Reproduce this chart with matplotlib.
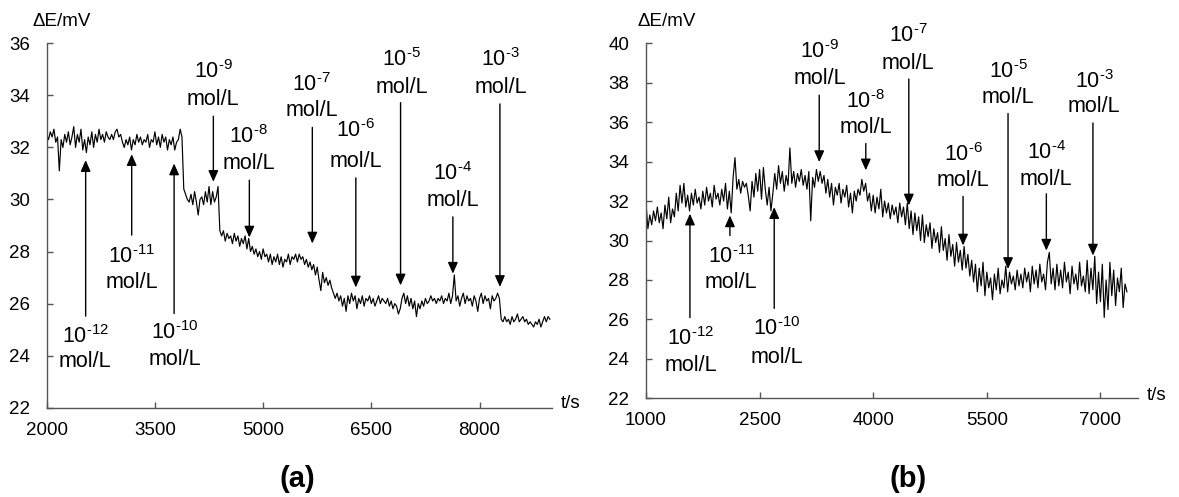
import numpy as np
import matplotlib
matplotlib.use("Agg")
import matplotlib.pyplot as plt

plt.rcParams['font.family'] = ['Liberation Sans', 'DejaVu Sans']
plt.rcParams['mathtext.fontset'] = 'custom'
plt.rcParams['mathtext.rm'] = 'Liberation Sans'
plt.rcParams['mathtext.it'] = 'Liberation Sans:italic'
plt.rcParams['mathtext.bf'] = 'Liberation Sans:bold'

# ---------------- data ----------------
# panel (a): potential readings every 25 s starting at 2000 s
t0_a, dt_a = 2000, 25
dE_a = [
    32.5, 32.3, 32.6, 32.4, 32.7, 32.2, 32.4, 31.1, 32.3, 32.0,
    32.5, 32.2, 32.6, 32.1, 32.4, 32.8, 32.0, 32.5, 32.2, 32.7,
    31.9, 32.3, 31.8, 32.4, 32.1, 32.6, 32.0, 32.5, 32.2, 32.7,
    32.3, 32.5, 32.2, 32.6, 32.4, 32.3, 32.5, 32.3, 32.6, 32.7,
    32.4, 32.5, 32.2, 32.0, 32.3, 32.1, 32.4, 31.9, 32.3, 32.1,
    32.5, 32.2, 32.4, 32.1, 32.3, 32.2, 32.5, 32.0, 32.3, 32.2,
    32.6, 32.1, 32.4, 32.0, 32.5, 32.2, 32.4, 31.9, 32.3, 32.1,
    32.4, 31.9, 32.2, 32.3, 32.7, 32.4, 30.4, 30.2, 30.0, 29.9,
    30.2, 29.8, 30.3, 29.9, 29.4, 30.0, 30.1, 29.8, 30.3, 29.9,
    30.5, 29.8, 30.3, 29.9, 30.1, 30.5, 28.8, 28.6, 28.8, 28.4,
    28.7, 28.5, 28.6, 28.3, 28.7, 28.4, 28.6, 28.2, 28.5, 28.3,
    28.6, 28.1, 28.5, 28.0, 28.2, 27.9, 28.1, 27.8, 28.0, 27.7,
    28.1, 27.8, 27.9, 27.6, 27.9, 27.5, 27.8, 27.6, 27.9, 27.5,
    27.8, 27.4, 27.7, 27.6, 27.9, 27.5, 27.8, 27.7, 27.9, 27.6,
    27.9, 27.7, 27.8, 27.5, 27.7, 27.4, 27.6, 27.3, 27.5, 27.1,
    27.4, 26.9, 26.5, 27.2, 26.8, 27.0, 26.7, 26.9, 26.6, 26.4,
    26.2, 26.4, 26.1, 26.3, 25.9, 26.2, 25.7, 26.3, 26.0, 26.4,
    26.1, 26.3, 25.8, 26.2, 26.0, 26.3, 25.9, 26.2, 26.1, 26.3,
    26.0, 26.2, 25.9, 26.1, 26.3, 26.0, 26.2, 26.1, 26.0, 26.2,
    25.9, 26.1, 25.8, 26.0, 25.9, 25.6, 25.8, 26.2, 26.4, 26.0,
    26.3, 25.9, 26.2, 25.8, 26.1, 25.5, 26.0, 25.8, 26.1, 25.9,
    26.2, 26.0, 26.1, 26.3, 26.1, 26.2, 26.0, 26.2, 26.1, 26.3,
    26.0, 26.2, 26.1, 26.4, 26.0, 26.3, 27.1, 26.1, 26.3, 25.9,
    26.2, 26.4, 26.0, 26.3, 26.1, 26.2, 25.9, 26.3, 26.1, 25.7,
    26.2, 26.4, 26.0, 26.3, 26.1, 26.2, 25.8, 26.3, 26.1, 26.2,
    26.4, 26.2, 25.4, 25.3, 25.5, 25.3, 25.4, 25.2, 25.5, 25.3,
    25.4, 25.6, 25.3, 25.4, 25.5, 25.3, 25.4, 25.2, 25.3, 25.2,
    25.1, 25.3, 25.2, 25.4, 25.1, 25.3, 25.5, 25.3, 25.5, 25.4,
]

# panel (b): potential readings every 25 s starting at 1000 s
t0_b, dt_b = 1000, 25
dE_b = [
    31.9, 30.6, 31.3, 30.8, 31.5, 31.0, 31.7, 30.9, 31.4, 30.6,
    31.8, 31.1, 32.2, 30.9, 31.6, 31.2, 32.4, 31.5, 32.8, 31.9,
    32.9, 31.7, 32.3, 31.5, 32.4, 31.8, 32.6, 31.9, 32.2, 31.6,
    32.5, 31.8, 32.7, 32.0, 32.4, 31.7, 32.8, 32.1, 32.4, 31.8,
    32.6, 32.0, 32.9, 31.6, 32.5, 31.4, 33.2, 34.2, 32.6, 33.1,
    32.4, 33.0, 32.7, 32.9, 32.3, 31.5, 33.0, 32.2, 33.4, 32.5,
    33.6, 32.1, 33.7, 32.6, 31.8, 32.7, 31.5, 32.4, 33.4, 32.6,
    33.8, 32.9, 33.5, 32.5, 33.3, 32.8, 34.7, 32.9, 33.5, 32.7,
    33.4, 33.0, 33.6, 32.8, 33.3, 32.6, 33.5, 31.0, 33.2, 32.7,
    33.6, 33.0, 33.5, 32.9, 33.3, 32.4, 33.1, 32.2, 32.9, 31.8,
    32.7, 32.3, 32.9, 31.9, 32.6, 32.2, 32.8, 31.7, 32.4, 31.4,
    32.5, 32.0, 32.6, 32.3, 33.1, 32.5, 32.9, 32.0, 32.4, 31.5,
    32.3, 31.4, 32.2, 31.6, 32.6, 31.2, 32.0, 31.4, 31.9, 31.1,
    31.8, 31.3, 31.7, 30.9, 31.9, 31.2, 31.7, 30.8, 31.9, 30.6,
    31.5, 30.3, 31.4, 30.5, 31.2, 30.0, 31.3, 29.9, 30.8, 30.2,
    30.9, 29.6, 30.6, 29.9, 30.4, 29.4, 30.7, 29.5, 30.1, 29.0,
    30.3, 29.2, 29.8, 28.7, 29.9, 28.9, 29.5, 28.5, 29.7, 28.6,
    29.3, 28.2, 29.0, 27.9, 28.8, 27.4, 28.6, 27.7, 28.9, 27.2,
    28.4, 27.6, 28.1, 27.0, 28.3, 27.5, 28.6, 27.3, 28.0, 27.6,
    28.7, 27.4, 28.4, 27.8, 28.2, 27.5, 28.5, 27.7, 28.3, 27.6,
    28.6, 27.9, 28.4, 27.4, 28.7, 27.8, 28.5, 27.6, 28.8, 27.9,
    28.3, 27.5, 28.9, 29.4, 27.8, 28.6, 27.5, 28.8, 27.7, 28.5,
    27.6, 28.9, 27.9, 28.4, 27.3, 28.7, 27.8, 28.3, 27.5, 28.9,
    27.7, 28.2, 27.4, 29.0, 27.3, 28.6, 27.5, 29.2, 26.8, 28.4,
    26.9, 28.8, 26.1, 28.0, 26.5, 28.9, 27.2, 28.5, 26.7, 28.1,
    27.4, 28.6, 26.6, 27.8, 27.4,
]

conc_labels = ['-12', '-11', '-10', '-9', '-8', '-7', '-6', '-5', '-4', '-3']
# times of standard additions (s)
add_t_a = [2540, 3178, 3766, 4310, 4809, 5682, 6285, 6905, 7630, 8282]
add_t_b = [1580, 2108, 2693, 3287, 3902, 4470, 5186, 5780, 6286, 6901]

# annotation layout: (arrow tail y, arrow tip y, label line1 y, label line2 y, label x)
layout_a = [
    (25.52, 31.51, 24.75, 23.78, 2534),
    (28.63, 31.74, 27.82, 26.81, 3183),
    (25.62, 31.38, 24.88, 23.85, 3780),
    (33.20, 30.68, 34.90, 33.86, 4310),
    (30.74, 28.54, 32.41, 31.38, 4800),
    (32.77, 28.31, 34.40, 33.40, 5675),
    (30.83, 26.62, 32.64, 31.47, 6280),
    (33.72, 26.70, 35.36, 34.31, 6920),
    (29.33, 27.15, 31.00, 29.97, 7630),
    (33.67, 26.64, 35.36, 34.31, 8290),
]
layout_b = [
    (26.09, 31.36, 25.05, 23.66, 1592),
    (30.25, 31.27, 29.19, 27.86, 2124),
    (26.56, 31.69, 25.54, 24.09, 2731),
    (37.37, 33.98, 39.57, 38.19, 3295),
    (34.92, 33.56, 37.03, 35.71, 3902),
    (38.19, 31.78, 40.37, 38.98, 4460),
    (32.24, 29.75, 34.37, 33.05, 5186),
    (36.44, 28.56, 38.56, 37.24, 5780),
    (32.37, 29.49, 34.44, 33.09, 6286),
    (35.96, 29.24, 38.08, 36.78, 6915),
]

# ---------------- figure ----------------
W, H = 1179, 497
fig = plt.figure(figsize=(W / 100, H / 100), dpi=100)

def fx(px):
    return px / W

def fy(py):
    return 1 - py / H

axA = fig.add_axes([fx(46.7), fy(407.7), fx(551.7 - 46.7), (407.7 - 43.3) / H])
axB = fig.add_axes([fx(646.0), fy(398.3), fx(1138.3 - 646.0), (398.3 - 43.3) / H])

spine_col = '#555555'
tick_fs = 13.5
ann_fs = 15.5

def style(ax, xlim, ylim, xt, yt):
    ax.set_xlim(*xlim)
    ax.set_ylim(*ylim)
    ax.set_xticks(xt)
    ax.set_yticks(yt)
    for s in ['top', 'right']:
        ax.spines[s].set_visible(False)
    for s in ['left', 'bottom']:
        ax.spines[s].set_color(spine_col)
        ax.spines[s].set_linewidth(1.0)
    ax.tick_params(axis='both', direction='in', length=4, width=1.0,
                   color=spine_col, labelsize=tick_fs, labelcolor='black')
    ax.tick_params(axis='x', pad=10)
    ax.tick_params(axis='y', pad=12)
    ax.patch.set_alpha(0)

def draw(ax, t0, dt, vals, add_t, layout):
    t = t0 + dt * np.arange(len(vals))
    ax.plot(t, vals, color='black', lw=0.85)
    for ct, tx, (tail, tip, l1, l2, lx) in zip(conc_labels, add_t, layout):
        ax.annotate('', xy=(tx, tip), xytext=(tx, tail),
                    arrowprops=dict(arrowstyle='-|>,head_length=0.45,head_width=0.2',
                                    color='black', lw=1.0, mutation_scale=15,
                                    shrinkA=0, shrinkB=0), annotation_clip=False)
        ax.text(lx, l1, r'$\mathrm{10}^{\text{' + ct + '}}$', ha='center', va='center',
                fontsize=ann_fs, clip_on=False)
        ax.text(lx, l2, 'mol/L', ha='center', va='center', fontsize=ann_fs,
                clip_on=False)

style(axA, (2000, 9000), (22, 36), [2000, 3500, 5000, 6500, 8000], np.arange(22, 37, 2))
style(axB, (1000, 7500), (22, 40), [1000, 2500, 4000, 5500, 7000], np.arange(22, 41, 2))
draw(axA, t0_a, dt_a, dE_a, add_t_a, layout_a)
draw(axB, t0_b, dt_b, dE_b, add_t_b, layout_b)

# axis labels
fig.text(fx(62), fy(21), 'ΔE/mV', ha='center', va='center', fontsize=13.5)
fig.text(fx(667), fy(21.5), 'ΔE/mV', ha='center', va='center', fontsize=13.5)
fig.text(fx(561), fy(403), 't/s', ha='left', va='center', fontsize=13.5)
fig.text(fx(1147), fy(395), 't/s', ha='left', va='center', fontsize=13.5)

# panel captions
fig.text(fx(297), fy(479), '(a)', ha='center', va='center', fontsize=21, fontweight='bold')
fig.text(fx(908), fy(479), '(b)', ha='center', va='center', fontsize=21, fontweight='bold')

fig.savefig('out.png', dpi=100)
